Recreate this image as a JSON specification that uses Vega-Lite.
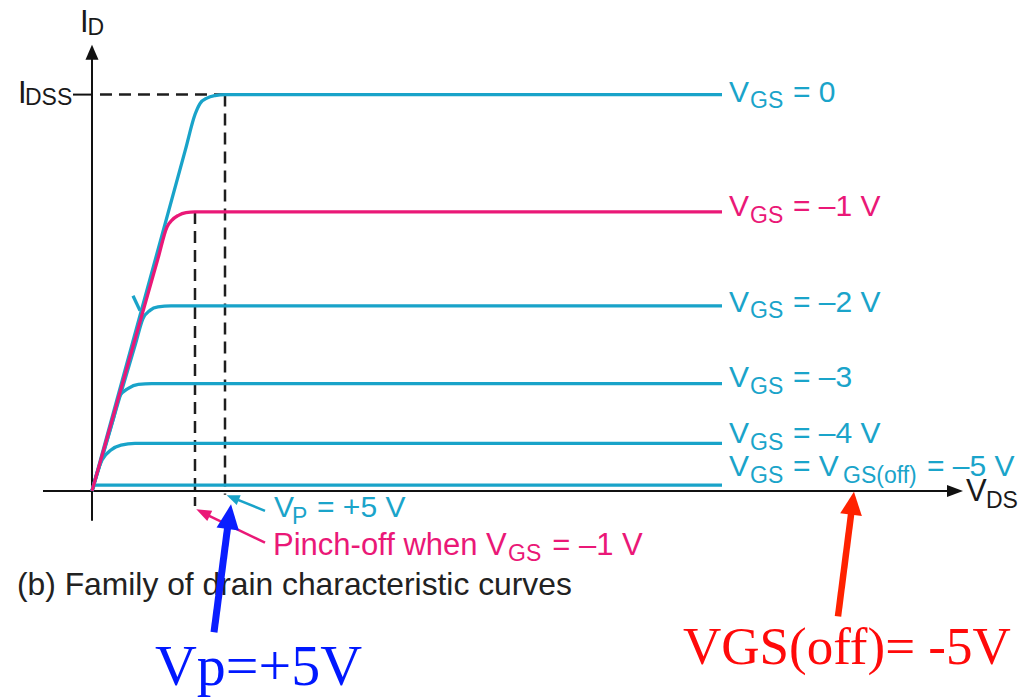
{
  "$schema": "https://vega.github.io/schema/vega-lite/v6.json",
  "width": 1030,
  "height": 697,
  "padding": 0,
  "autosize": {"type": "fit", "contains": "padding"},
  "background": "white",
  "config": {"view": {"stroke": null}},
  "datasets": {
    "curves": [
      {"s": "0", "vds": 0, "id": 0}, {"s": "0", "vds": 3.515, "id": 8.618}, {"s": "0", "vds": 3.872, "id": 9.497}, {"s": "0", "vds": 4.06, "id": 9.774}, {"s": "0", "vds": 4.323, "id": 9.912}, {"s": "0", "vds": 4.624, "id": 9.975}, {"s": "0", "vds": 5.0, "id": 10.0}, {"s": "0", "vds": 23.684, "id": 10.0},
      {"s": "-1", "vds": 0, "id": 0}, {"s": "-1", "vds": 2.477, "id": 5.854}, {"s": "-1", "vds": 2.82, "id": 6.658}, {"s": "-1", "vds": 3.008, "id": 6.834}, {"s": "-1", "vds": 3.233, "id": 6.947}, {"s": "-1", "vds": 3.534, "id": 7.023}, {"s": "-1", "vds": 3.872, "id": 7.04}, {"s": "-1", "vds": 23.684, "id": 7.04},
      {"s": "-2", "vds": 0, "id": 0}, {"s": "-2", "vds": 1.639, "id": 3.719}, {"s": "-2", "vds": 1.917, "id": 4.347}, {"s": "-2", "vds": 2.18, "id": 4.555}, {"s": "-2", "vds": 2.481, "id": 4.641}, {"s": "-2", "vds": 2.97, "id": 4.666}, {"s": "-2", "vds": 23.684, "id": 4.666},
      {"s": "-3", "vds": 0, "id": 0}, {"s": "-3", "vds": 0.808, "id": 1.834}, {"s": "-3", "vds": 1.035, "id": 2.389}, {"s": "-3", "vds": 1.365, "id": 2.588}, {"s": "-3", "vds": 1.741, "id": 2.688}, {"s": "-3", "vds": 2.244, "id": 2.706}, {"s": "-3", "vds": 23.684, "id": 2.706},
      {"s": "-4", "vds": 0, "id": 0}, {"s": "-4", "vds": 0.188, "id": 0.452}, {"s": "-4", "vds": 0.376, "id": 0.779}, {"s": "-4", "vds": 0.714, "id": 1.03}, {"s": "-4", "vds": 1.09, "id": 1.156}, {"s": "-4", "vds": 1.617, "id": 1.198}, {"s": "-4", "vds": 23.684, "id": 1.198},
      {"s": "-5", "vds": 0, "id": 0}, {"s": "-5", "vds": 0.11, "id": 0.143}, {"s": "-5", "vds": 23.684, "id": 0.143},
      {"s": "v", "vds": 1.541, "id": 4.925}, {"s": "v", "vds": 1.805, "id": 4.548}
    ],
    "guides": [
      {"g": "idss", "vds": 0.3, "id": 10}, {"g": "idss", "vds": 5, "id": 10},
      {"g": "vp", "vds": 5, "id": 10}, {"g": "vp", "vds": 5, "id": -0.1},
      {"g": "vgs1", "vds": 3.872, "id": 7.04}, {"g": "vgs1", "vds": 3.872, "id": -0.38}
    ],
    "axes": [
      {"a": "y", "vds": 0, "id": -0.754}, {"a": "y", "vds": 0, "id": 10.93},
      {"a": "x", "vds": -1.842, "id": 0}, {"a": "x", "vds": 32.26, "id": 0},
      {"a": "tick", "vds": -0.714, "id": 10}, {"a": "tick", "vds": 0, "id": 10}
    ],
    "shafts": [
      {"a": "vp", "vds": 6.504, "id": -0.503}, {"a": "vp", "vds": 5.301, "id": -0.176},
      {"a": "pinch", "vds": 6.504, "id": -1.307}, {"a": "pinch", "vds": 4.248, "id": -0.578},
      {"a": "blue", "vds": 4.586, "id": -3.568}, {"a": "blue", "vds": 5.15, "id": -0.653},
      {"a": "red", "vds": 28.045, "id": -3.166}, {"a": "red", "vds": 28.59, "id": -0.312}
    ],
    "heads": [
      {"h": "yaxis", "vds": 0, "id": 11.068},
      {"h": "xaxis", "vds": 32.444, "id": 0},
      {"h": "vp", "vds": 5.289, "id": -0.171},
      {"h": "pinch", "vds": 4.173, "id": -0.548},
      {"h": "blue", "vds": 5.165, "id": -0.651},
      {"h": "red", "vds": 28.59, "id": -0.312}
    ],
    "labels": [
      {"ink": "c", "role": "m", "t": "V", "vds": 23.947, "id": 9.824},
      {"ink": "c", "role": "m", "t": "= 0", "vds": 26.353, "id": 9.824},
      {"ink": "c", "role": "m", "t": "V", "vds": 23.947, "id": 4.523},
      {"ink": "c", "role": "m", "t": "= –2 V", "vds": 26.353, "id": 4.523},
      {"ink": "c", "role": "m", "t": "V", "vds": 23.947, "id": 2.613},
      {"ink": "c", "role": "m", "t": "= –3", "vds": 26.353, "id": 2.613},
      {"ink": "c", "role": "m", "t": "V", "vds": 23.947, "id": 1.206},
      {"ink": "c", "role": "m", "t": "= –4 V", "vds": 26.353, "id": 1.206},
      {"ink": "c", "role": "m", "t": "V", "vds": 23.947, "id": 0.377},
      {"ink": "c", "role": "m", "t": "= V", "vds": 26.353, "id": 0.377},
      {"ink": "c", "role": "m", "t": "= –5 V", "vds": 31.391, "id": 0.377},
      {"ink": "c", "role": "m", "t": "V", "vds": 6.842, "id": -0.653},
      {"ink": "c", "role": "m", "t": "= +5 V", "vds": 8.459, "id": -0.653},
      {"ink": "c", "role": "s", "t": "GS", "vds": 24.737, "id": 9.673},
      {"ink": "c", "role": "s", "t": "GS", "vds": 24.737, "id": 4.372},
      {"ink": "c", "role": "s", "t": "GS", "vds": 24.737, "id": 2.437},
      {"ink": "c", "role": "s", "t": "GS", "vds": 24.737, "id": 1.03},
      {"ink": "c", "role": "s", "t": "GS", "vds": 24.737, "id": 0.201},
      {"ink": "c", "role": "s", "t": "GS(off)", "vds": 28.233, "id": 0.201},
      {"ink": "c", "role": "s", "t": "P", "vds": 7.519, "id": -0.829},
      {"ink": "p", "role": "m", "t": "V", "vds": 23.947, "id": 6.935},
      {"ink": "p", "role": "m", "t": "= –1 V", "vds": 26.353, "id": 6.935},
      {"ink": "p", "role": "s", "t": "GS", "vds": 24.737, "id": 6.759},
      {"ink": "p", "role": "L", "t": "Pinch-off when V", "vds": 6.805, "id": -1.608},
      {"ink": "p", "role": "L", "t": "= –1 V", "vds": 17.3, "id": -1.608},
      {"ink": "p", "role": "Ls", "t": "GS", "vds": 15.639, "id": -1.759},
      {"ink": "k", "role": "m", "t": "I", "vds": -0.451, "id": 11.583},
      {"ink": "k", "role": "m", "t": "I", "vds": -2.782, "id": 9.799},
      {"ink": "k", "role": "m", "t": "V", "vds": 32.857, "id": -0.251},
      {"ink": "k", "role": "s", "t": "D", "vds": -0.169, "id": 11.508},
      {"ink": "k", "role": "s", "t": "DSS", "vds": -2.519, "id": 9.749},
      {"ink": "k", "role": "s", "t": "DS", "vds": 33.609, "id": -0.427},
      {"ink": "cap", "role": "cap", "t": "(b) Family of drain characteristic curves", "vds": -2.82, "id": -2.638},
      {"ink": "blue", "role": "big", "t": "Vp=+5V", "vds": 2.368, "id": -4.899},
      {"ink": "red", "role": "big", "t": "VGS(off)= -5V", "vds": 22.218, "id": -4.372}
    ]
  },
  "encoding": {
    "x": {"field": "vds", "type": "quantitative", "axis": null, "scale": {"domain": [-3.4586, 35.263], "nice": false, "zero": false}},
    "y": {"field": "id", "type": "quantitative", "axis": null, "scale": {"domain": [-5.1256, 12.387], "nice": false, "zero": false}}
  },
  "layer": [
    {
      "data": {"name": "guides"},
      "mark": {"type": "line", "color": "#1e1e1e", "strokeWidth": 2.5, "strokeDash": [12, 7]},
      "encoding": {"detail": {"field": "g"}}
    },
    {
      "data": {"name": "axes"},
      "mark": {"type": "line", "color": "#111111", "strokeWidth": 2},
      "encoding": {"detail": {"field": "a"}}
    },
    {
      "data": {"name": "heads"},
      "transform": [{"filter": "datum.h === 'yaxis'"}],
      "mark": {"type": "point", "filled": true, "opacity": 1, "color": "#111111", "shape": "M0,-1L0.87,1L-0.87,1Z", "size": 225, "angle": 0}
    },
    {
      "data": {"name": "heads"},
      "transform": [{"filter": "datum.h === 'xaxis'"}],
      "mark": {"type": "point", "filled": true, "opacity": 1, "color": "#111111", "shape": "M0,-1L0.75,1L-0.75,1Z", "size": 256, "angle": 90}
    },
    {
      "data": {"name": "curves"},
      "transform": [{"filter": "datum.s !== '-1'"}],
      "mark": {"type": "line", "color": "#19a3c9", "strokeWidth": 3.3, "interpolate": "monotone"},
      "encoding": {"detail": {"field": "s"}}
    },
    {
      "data": {"name": "curves"},
      "transform": [{"filter": "datum.s === '-1'"}],
      "mark": {"type": "line", "color": "#ea1877", "strokeWidth": 3.3, "interpolate": "monotone"},
      "encoding": {}
    },
    {
      "data": {"name": "shafts"},
      "transform": [{"filter": "datum.a === 'vp'"}],
      "mark": {"type": "line", "color": "#19a3c9", "strokeWidth": 2.5},
      "encoding": {}
    },
    {
      "data": {"name": "heads"},
      "transform": [{"filter": "datum.h === 'vp'"}],
      "mark": {"type": "point", "filled": true, "opacity": 1, "color": "#19a3c9", "shape": "M0,-1L0.8,1L-0.8,1Z", "size": 169, "angle": -67.7}
    },
    {
      "data": {"name": "shafts"},
      "transform": [{"filter": "datum.a === 'pinch'"}],
      "mark": {"type": "line", "color": "#ea1877", "strokeWidth": 2.5},
      "encoding": {}
    },
    {
      "data": {"name": "heads"},
      "transform": [{"filter": "datum.h === 'pinch'"}],
      "mark": {"type": "point", "filled": true, "opacity": 1, "color": "#ea1877", "shape": "M0,-1L0.75,1L-0.75,1Z", "size": 225, "angle": -64}
    },
    {
      "data": {"name": "labels"},
      "transform": [{"filter": "datum.ink === 'c' && datum.role === 'm'"}],
      "mark": {"type": "text", "align": "left", "baseline": "alphabetic", "font": "Liberation Sans", "fontSize": 30, "color": "#1aa4ca"},
      "encoding": {"text": {"field": "t"}}
    },
    {
      "data": {"name": "labels"},
      "transform": [{"filter": "datum.ink === 'c' && datum.role === 's'"}],
      "mark": {"type": "text", "align": "left", "baseline": "alphabetic", "font": "Liberation Sans", "fontSize": 23, "color": "#1aa4ca"},
      "encoding": {"text": {"field": "t"}}
    },
    {
      "data": {"name": "labels"},
      "transform": [{"filter": "datum.ink === 'p' && datum.role === 'm'"}],
      "mark": {"type": "text", "align": "left", "baseline": "alphabetic", "font": "Liberation Sans", "fontSize": 30, "color": "#ea1877"},
      "encoding": {"text": {"field": "t"}}
    },
    {
      "data": {"name": "labels"},
      "transform": [{"filter": "datum.ink === 'p' && datum.role === 's'"}],
      "mark": {"type": "text", "align": "left", "baseline": "alphabetic", "font": "Liberation Sans", "fontSize": 23, "color": "#ea1877"},
      "encoding": {"text": {"field": "t"}}
    },
    {
      "data": {"name": "labels"},
      "transform": [{"filter": "datum.role === 'L'"}],
      "mark": {"type": "text", "align": "left", "baseline": "alphabetic", "font": "Liberation Sans", "fontSize": 31, "color": "#ea1877"},
      "encoding": {"text": {"field": "t"}}
    },
    {
      "data": {"name": "labels"},
      "transform": [{"filter": "datum.role === 'Ls'"}],
      "mark": {"type": "text", "align": "left", "baseline": "alphabetic", "font": "Liberation Sans", "fontSize": 23, "color": "#ea1877"},
      "encoding": {"text": {"field": "t"}}
    },
    {
      "data": {"name": "labels"},
      "transform": [{"filter": "datum.ink === 'k' && datum.role === 'm'"}],
      "mark": {"type": "text", "align": "left", "baseline": "alphabetic", "font": "Liberation Sans", "fontSize": 31, "color": "#1a1a1a"},
      "encoding": {"text": {"field": "t"}}
    },
    {
      "data": {"name": "labels"},
      "transform": [{"filter": "datum.ink === 'k' && datum.role === 's'"}],
      "mark": {"type": "text", "align": "left", "baseline": "alphabetic", "font": "Liberation Sans", "fontSize": 23, "color": "#1a1a1a"},
      "encoding": {"text": {"field": "t"}}
    },
    {
      "data": {"name": "labels"},
      "transform": [{"filter": "datum.role === 'cap'"}],
      "mark": {"type": "text", "align": "left", "baseline": "alphabetic", "font": "Liberation Sans", "fontSize": 31.8, "color": "#222222"},
      "encoding": {"text": {"field": "t"}}
    },
    {
      "data": {"name": "shafts"},
      "transform": [{"filter": "datum.a === 'blue'"}],
      "mark": {"type": "line", "color": "#0a1eff", "strokeWidth": 7},
      "encoding": {}
    },
    {
      "data": {"name": "heads"},
      "transform": [{"filter": "datum.h === 'blue'"}],
      "mark": {"type": "point", "filled": true, "opacity": 1, "color": "#0a1eff", "shape": "M0,-1L0.9,1L-0.9,1Z", "size": 625, "angle": 7.56}
    },
    {
      "data": {"name": "shafts"},
      "transform": [{"filter": "datum.a === 'red'"}],
      "mark": {"type": "line", "color": "#ff2200", "strokeWidth": 6.5},
      "encoding": {}
    },
    {
      "data": {"name": "heads"},
      "transform": [{"filter": "datum.h === 'red'"}],
      "mark": {"type": "point", "filled": true, "opacity": 1, "color": "#ff2200", "shape": "M0,-1L0.95,1L-0.95,1Z", "size": 529, "angle": 7.29}
    },
    {
      "data": {"name": "labels"},
      "transform": [{"filter": "datum.ink === 'blue'"}],
      "mark": {"type": "text", "align": "left", "baseline": "alphabetic", "font": "Liberation Serif", "fontSize": 58, "color": "#0018ff"},
      "encoding": {"text": {"field": "t"}}
    },
    {
      "data": {"name": "labels"},
      "transform": [{"filter": "datum.ink === 'red'"}],
      "mark": {"type": "text", "align": "left", "baseline": "alphabetic", "font": "Liberation Serif", "fontSize": 53, "color": "#ff0a0a"},
      "encoding": {"text": {"field": "t"}}
    }
  ]
}
